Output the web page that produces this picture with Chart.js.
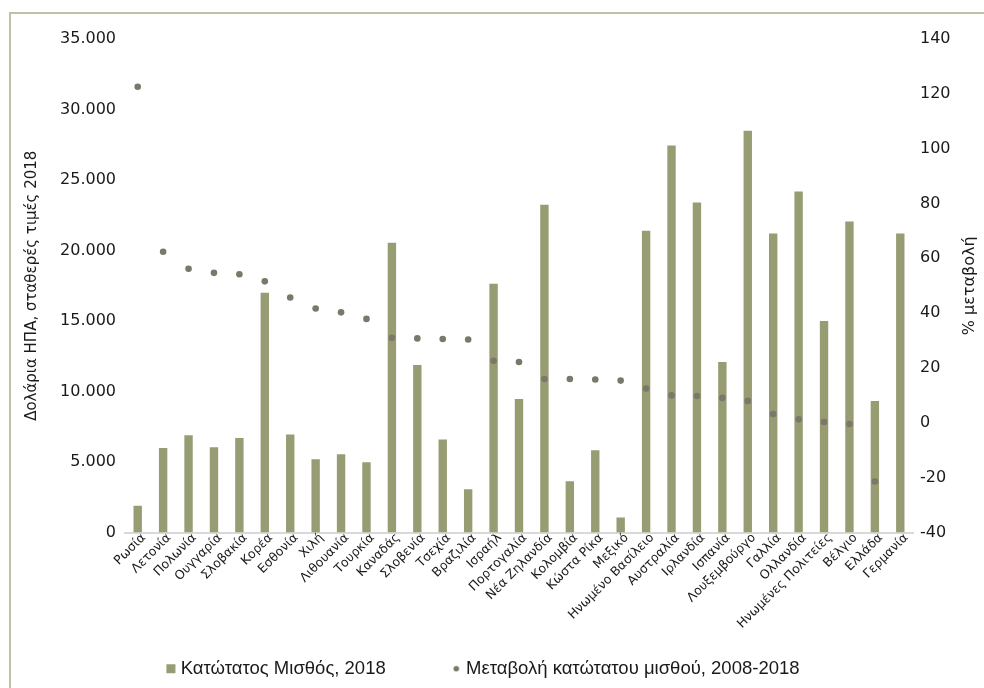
<!DOCTYPE html>
<html lang="el">
<head>
    <meta charset="UTF-8">
    <title>Κατώτατος μισθός</title>
    <script src="https://cdn.jsdelivr.net/npm/chart.js"></script>
    <style>
        html, body { margin: 0; padding: 0; background: #fff; overflow: hidden; }
        #frame {
            position: absolute; left: 9px; top: 12px; width: 1000px; height: 700px;
            border-top: 2px solid #BFC2A6; border-left: 2px solid #BFC2A6;
        }
        #wrap { position: absolute; left: 0; top: 0; width: 984px; height: 688px; }
    </style>
</head>
<body>
    <div id="frame"></div>
    <div id="wrap"><canvas id="wageChart"></canvas></div>
    <script>
        // countries, left to right
        const countries = [
            "Ρωσία", "Λετονία", "Πολωνία", "Ουγγαρία", "Σλοβακία", "Κορέα", "Εσθονία", "Χιλή",
            "Λιθουανία", "Τουρκία", "Καναδάς", "Σλοβενία", "Τσεχία", "Βραζιλία", "Ισραήλ",
            "Πορτογαλία", "Νέα Ζηλανδία", "Κολομβία", "Κώστα Ρίκα", "Μεξικό", "Ηνωμένο Βασίλειο",
            "Αυστραλία", "Ιρλανδία", "Ισπανία", "Λουξεμβούργο", "Γαλλία", "Ολλανδία",
            "Ηνωμένες Πολιτείες", "Βέλγιο", "Ελλάδα", "Γερμανία"
        ];
        // minimum wage 2018, USD constant prices (left axis)
        const minWage2018 = [
            1900, 6000, 6900, 6050, 6700, 17000, 6950, 5200, 5550, 4980, 20550, 11880, 6600,
            3060, 17640, 9460, 23250, 3630, 5830, 1070, 21400, 27450, 23400, 12090, 28500,
            21200, 24180, 15000, 22050, 9320, 21200
        ];
        // % change 2008-2018 (right axis)
        const wageChange = [
            122.6, 62.4, 56.2, 54.7, 54.2, 51.6, 45.7, 41.7, 40.3, 37.9, 31.0, 30.8, 30.6,
            30.4, 22.6, 22.2, 16.0, 16.0, 15.8, 15.4, 12.5, 10.0, 9.8, 9.1, 8.0, 3.2, 1.3,
            0.3, -0.4, -21.4, null
        ];
        const leftTicks = { min: 0, max: 35000, step: 5000 };
        const rightTicks = { min: -40, max: 140, step: 20 };
        const rightTitle = "% μεταβολή";

        const tickFont = { family: "DejaVu Sans", size: 16 };
        const textColor = "#1a1a1a";
        const dotColor = "#7B776A";

        // small dot for the legend (the default circle is too big)
        const legendDot = document.createElement("canvas");
        legendDot.width = 7; legendDot.height = 7;
        const dctx = legendDot.getContext("2d");
        dctx.fillStyle = dotColor;
        dctx.beginPath(); dctx.arc(3.5, 3.5, 2.8, 0, Math.PI * 2); dctx.fill();

        // right axis title reads bottom to top, like the left one
        const rightTitlePlugin = {
            id: "rightTitle",
            afterDraw(chart) {
                const ctx = chart.ctx;
                const s = chart.scales.y1;
                ctx.save();
                ctx.translate(970, (s.top + s.bottom) / 2);
                ctx.rotate(-Math.PI / 2);
                ctx.font = tickFont.size + "px " + tickFont.family;
                ctx.fillStyle = textColor;
                ctx.textAlign = "center";
                ctx.textBaseline = "middle";
                ctx.fillText(rightTitle, 0, 0);
                ctx.restore();
            }
        };

        new Chart(document.getElementById("wageChart"), {
            type: "bar",
            data: {
                labels: countries,
                datasets: [{
                    label: "Κατώτατος Μισθός, 2018",
                    data: minWage2018,
                    backgroundColor: "#979C73",
                    yAxisID: "y",
                    barPercentage: 0.33,
                    categoryPercentage: 1,
                    pointStyle: "rect",
                    order: 2
                }, {
                    type: "line",
                    label: "Μεταβολή κατώτατου μισθού, 2008-2018",
                    data: wageChange,
                    yAxisID: "y1",
                    showLine: false,
                    pointRadius: 3.3,
                    pointStyle: "circle",
                    backgroundColor: dotColor,
                    borderColor: dotColor,
                    borderWidth: 0,
                    order: 1
                }]
            },
            plugins: [rightTitlePlugin],
            options: {
                responsive: true,
                maintainAspectRatio: false,
                animation: false,
                layout: { padding: { top: 39, left: 0, right: 14, bottom: 0 } },
                plugins: {
                    tooltip: { enabled: false },
                    legend: {
                        position: "bottom",
                        labels: {
                            usePointStyle: true,
                            boxWidth: 1,
                            boxHeight: 9,
                            padding: 70,
                            color: textColor,
                            font: { family: "Liberation Sans", size: 18.5 },
                            sort: (a, b) => a.datasetIndex - b.datasetIndex,
                            generateLabels: (chart) => {
                                const items = Chart.defaults.plugins.legend.labels.generateLabels(chart);
                                items.forEach((it) => {
                                    if (it.datasetIndex === 1) it.pointStyle = legendDot;
                                });
                                return items;
                            }
                        }
                    }
                },
                scales: {
                    x: {
                        grid: { display: false, drawTicks: false },
                        border: { display: true, color: "#D9D9D9", width: 2 },
                        ticks: {
                            autoSkip: false,
                            minRotation: 45,
                            maxRotation: 45,
                            padding: -2,
                            labelOffset: 6,
                            color: textColor,
                            font: { family: "DejaVu Sans", size: 12.5 }
                        },
                        afterFit: (s) => {
                            s.height = 57;
                            // the legend takes the room below, let the long labels run into it
                            s._computeLabelArea = () => undefined;
                        }
                    },
                    y: {
                        position: "left",
                        min: leftTicks.min,
                        max: leftTicks.max,
                        grid: { display: false, drawTicks: false },
                        border: { display: false },
                        ticks: {
                            stepSize: leftTicks.step,
                            padding: 9,
                            color: textColor,
                            font: tickFont,
                            callback: (v) => v.toLocaleString("de-DE")
                        },
                        title: {
                            display: true,
                            text: "Δολάρια ΗΠΑ, σταθερές τιμές 2018",
                            color: textColor,
                            font: { family: "DejaVu Sans", size: 15 },
                            padding: { top: 23, bottom: 4 }
                        },
                        afterFit: (s) => { s.width = 125; }
                    },
                    y1: {
                        position: "right",
                        min: rightTicks.min,
                        max: rightTicks.max,
                        grid: { display: false, drawTicks: false },
                        border: { display: false },
                        ticks: {
                            stepSize: rightTicks.step,
                            padding: 7,
                            color: textColor,
                            font: tickFont
                        },
                        afterFit: (s) => { s.width = 57; }
                    }
                }
            }
        });
    </script>
</body>
</html>
